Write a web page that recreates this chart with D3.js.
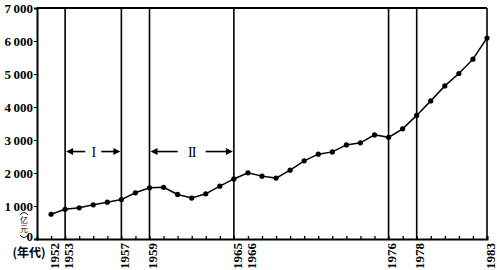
<!DOCTYPE html>
<html>
<head>
<meta charset="utf-8">
<script src="https://cdn.jsdelivr.net/npm/d3@7"></script>
<style>
  body { margin: 0; background: #fff; }
  svg { display: block; }
</style>
</head>
<body>
<div class="chart"></div>
<script>
const years = d3.range(1952, 1984)
const values = [
  750, 900, 945, 1035, 1115, 1195, 1400, 1550,
  1565, 1350, 1240, 1370, 1600, 1820, 2005, 1905,
  1845, 2085, 2370, 2570, 2640, 2850, 2915, 3155,
  3080, 3340, 3745, 4185, 4640, 5015, 5450, 6090
]
const yTicks = [0, 1000, 2000, 3000, 4000, 5000, 6000, 7000]
const labelYears = [1952, 1953, 1957, 1959, 1965, 1966, 1976, 1978, 1983]
const splitYears = [1953, 1957, 1959, 1965, 1976, 1978, 1983]
const periodNames = ['I', 'II']
const periodStart = [1953, 1959]
const periodEnd = [1957, 1965]
const periodLevel = 2650

const width = 497
const height = 270
const mLeft = 37, mRight = 487, mTop = 8, mBottom = 239
const serif = "'Liberation Serif', 'Times New Roman', serif"

const xScale = d3.scaleLinear().domain([1951, 1983]).range([mLeft, mRight])
const yScale = d3.scaleLinear().domain([0, 7000]).range([mBottom, mTop])

const svg = d3.select('.chart')
  .append('svg')
  .attr('width', width)
  .attr('height', height)

// frame: top border
svg.append('line')
  .attr('x1', mLeft).attr('x2', mRight)
  .attr('y1', yScale(7000)).attr('y2', yScale(7000))
  .attr('stroke', '#000').attr('stroke-width', 2)

// vertical period lines
svg.selectAll('.split')
  .data(splitYears)
  .enter()
  .append('line')
  .attr('class', 'split')
  .attr('x1', d => xScale(d)).attr('x2', d => xScale(d))
  .attr('y1', yScale(7000)).attr('y2', yScale(0))
  .attr('stroke', '#000')
  .attr('stroke-width', 1.6)

// y axis
const yAxis = d3.axisLeft(yScale)
  .tickValues(yTicks)
  .tickSize(3)
  .tickPadding(1)
  .tickFormat(d => d === 0 ? '0' : d3.format(',')(d).replace(',', '\u2009'))

const gy = svg.append('g')
  .attr('transform', 'translate(' + mLeft + ',0)')
  .attr('font-family', null)
  .call(yAxis)
gy.select('.domain').attr('stroke-width', 2)
gy.selectAll('text')
  .style('font-family', serif)
  .style('font-weight', 'bold')
  .style('font-size', '13px')
  .attr('fill', '#000')
gy.selectAll('.tick')
  .filter(d => d === 0)
  .select('text')
  .attr('dy', '0.1em')

// x axis
const xAxis = d3.axisBottom(xScale)
  .tickValues(d3.range(1952, 1984))
  .tickSize(-3)
  .tickFormat(d => labelYears.includes(d) ? String(d) : '')

const gx = svg.append('g')
  .attr('transform', 'translate(0,' + mBottom + ')')
  .call(xAxis)
gx.select('.domain').attr('stroke-width', 2)
gx.selectAll('line').attr('stroke-width', 1.3)
gx.selectAll('text')
  .style('font-family', serif)
  .style('font-weight', 'bold')
  .style('font-size', '13px')
  .attr('fill', '#000')
  .attr('transform', 'rotate(-90)')
  .attr('text-anchor', 'end')
  .attr('x', -4)
  .attr('y', 0)
  .attr('dy', '0.55em')

// line and dots
const line = d3.line()
  .x((d, i) => xScale(years[i]))
  .y(d => yScale(d))

svg.append('path')
  .datum(values)
  .attr('d', line)
  .attr('fill', 'none')
  .attr('stroke', '#000')
  .attr('stroke-width', 1.5)

svg.selectAll('.dot')
  .data(values)
  .enter()
  .append('circle')
  .attr('class', 'dot')
  .attr('cx', (d, i) => xScale(years[i]))
  .attr('cy', d => yScale(d))
  .attr('r', 2.6)
  .attr('fill', '#000')

// period arrows
const py = yScale(periodLevel)
periodNames.forEach((name, i) => {
  const x0 = xScale(periodStart[i]) + 1
  const x1 = xScale(periodEnd[i]) - 1
  const mid = (x0 + x1) / 2
  const gap = i === 0 ? 8 : 14
  svg.append('line')
    .attr('x1', x0 + 6).attr('x2', mid - gap)
    .attr('y1', py).attr('y2', py)
    .attr('stroke', '#000').attr('stroke-width', 1.6)
  svg.append('line')
    .attr('x1', mid + gap).attr('x2', x1 - 6)
    .attr('y1', py).attr('y2', py)
    .attr('stroke', '#000').attr('stroke-width', 1.6)
  svg.append('path')
    .attr('d', 'M' + x0 + ',' + py + 'l7,-3.5l0,7z')
    .attr('fill', '#000')
  svg.append('path')
    .attr('d', 'M' + x1 + ',' + py + 'l-7,-3.5l0,7z')
    .attr('fill', '#000')
  svg.append('text')
    .attr('x', mid)
    .attr('y', py)
    .attr('dy', '0.36em')
    .attr('text-anchor', 'middle')
    .style('font-family', serif)
    .style('font-size', '14px')
    .style('letter-spacing', '-1px')
    .text(name)
})

// unit label: vertical 亿元 between small arcs
const ux = 24
svg.append('path')
  .attr('d', 'M' + (ux - 4) + ',215 Q' + ux + ',210 ' + (ux + 4) + ',215')
  .attr('fill', 'none').attr('stroke', '#000').attr('stroke-width', 0.9)
svg.append('path')
  .attr('d', 'M' + (ux - 4) + ',235 Q' + ux + ',240 ' + (ux + 4) + ',235')
  .attr('fill', 'none').attr('stroke', '#000').attr('stroke-width', 0.9)
;['亿', '元'].forEach((c, i) => {
  svg.append('text')
    .attr('x', ux)
    .attr('y', 220 + i * 9.5)
    .attr('dy', '0.35em')
    .attr('text-anchor', 'middle')
    .style('font-family', "'Noto Sans CJK SC', sans-serif")
    .style('font-size', '8px')
    .attr('fill', '#000')
    .text(c)
})

svg.append('text')
  .attr('x', 29)
  .attr('y', 253)
  .attr('dy', '0.35em')
  .attr('text-anchor', 'middle')
  .style('font-family', "'Noto Sans CJK SC', sans-serif")
  .style('font-size', '12px')
  .style('font-weight', 'bold')
  .attr('fill', '#000')
  .text('(年代)')
</script>
</body>
</html>
